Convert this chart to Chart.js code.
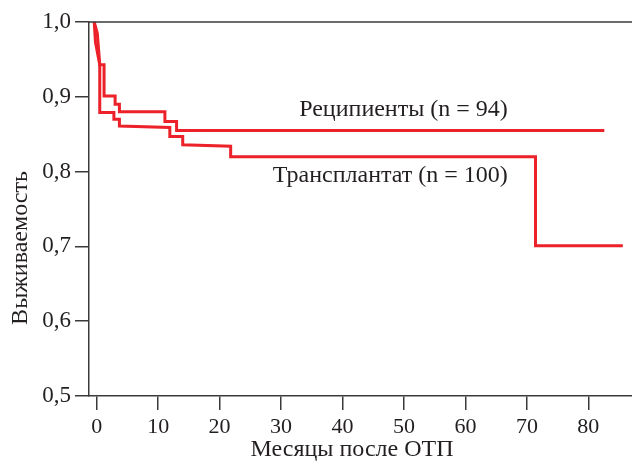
<!DOCTYPE html>
<html>
<head>
<meta charset="utf-8">
<script src="https://cdn.jsdelivr.net/npm/chart.js@4"></script>
<style>
html,body{margin:0;padding:0;background:#fff;}
#wrap{width:632px;height:462px;position:relative;}
</style>
</head>
<body>
<div id="wrap"><canvas id="c" width="632" height="462"></canvas></div>
<script>
// Kaplan–Meier curve vertices (months, survival)
const recipMonths = [-0.4, 0.1, 0.5, 1.2, 1.2, 3.0, 3.0, 3.7, 3.7, 11.1, 11.1, 13.0, 13.0, 82.6];
const recipSurv   = [1.0, 0.985, 0.943, 0.943, 0.901, 0.901, 0.890, 0.890, 0.880, 0.880, 0.867, 0.867, 0.855, 0.855];
const transMonths = [-0.4, -0.2, 0.5, 0.5, 2.8, 2.8, 3.7, 3.7, 11.9, 11.9, 14.0, 14.0, 21.8, 21.8, 71.4, 71.4, 85.6];
const transSurv   = [1.0, 0.973, 0.943, 0.879, 0.879, 0.870, 0.870, 0.861, 0.859, 0.847, 0.847, 0.836, 0.834, 0.820, 0.820, 0.701, 0.701];
const seriesNames = ['Реципиенты (n = 94)', 'Трансплантат (n = 100)'];
const xTicks = [0, 10, 20, 30, 40, 50, 60, 70, 80];
const yTicks = [0.5, 0.6, 0.7, 0.8, 0.9, 1.0];
const yTickLabels = ['0,5', '0,6', '0,7', '0,8', '0,9', '1,0'];
const xTitle = 'Месяцы после ОТП';
const yTitle = 'Выживаемость';

const toPts = (xs, ys) => xs.map((x, i) => ({x: x, y: ys[i]}));
const RED = '#ec2129';
const INK = '#231f20';
const FONT = 'Liberation Serif';

const labelPlugin = {
  id: 'labels',
  afterDatasetsDraw(chart) {
    const {ctx, scales: {x, y}, chartArea} = chart;
    ctx.save();
    // top frame line
    ctx.strokeStyle = '#3a3a3a';
    ctx.lineWidth = 1.5;
    ctx.beginPath();
    ctx.moveTo(chartArea.left, chartArea.top);
    ctx.lineTo(chartArea.right, chartArea.top);
    ctx.stroke();
    ctx.fillStyle = INK;
    ctx.font = '24px "' + FONT + '"';
    // series labels
    ctx.textAlign = 'right';
    ctx.textBaseline = 'alphabetic';
    const anchors = [[66.9, 0.875], [66.9, 0.786]];
    seriesNames.forEach((t, i) => {
      ctx.fillText(t, x.getPixelForValue(anchors[i][0]), y.getPixelForValue(anchors[i][1]));
    });
    // axis titles
    ctx.textAlign = 'center';
    ctx.textBaseline = 'middle';
    ctx.fillText(xTitle, 352, 450);
    ctx.translate(21, 248);
    ctx.rotate(-Math.PI / 2);
    ctx.fillText(yTitle, 0, 0);
    ctx.restore();
  }
};

new Chart(document.getElementById('c'), {
  type: 'line',
  data: {
    datasets: [
      {label: seriesNames[0], data: toPts(recipMonths, recipSurv), borderColor: RED, borderWidth: 3, pointRadius: 0, fill: false, tension: 0},
      {label: seriesNames[1], data: toPts(transMonths, transSurv), borderColor: RED, borderWidth: 3, pointRadius: 0, fill: false, tension: 0}
    ]
  },
  options: {
    responsive: false,
    animation: false,
    devicePixelRatio: 1,
    layout: {padding: {top: 22, right: 0, left: 0, bottom: 0}},
    plugins: {legend: {display: false}, tooltip: {enabled: false}},
    scales: {
      x: {
        type: 'linear',
        min: -1.25,
        max: 87.1,
        afterBuildTicks: (s) => { s.ticks = xTicks.map(v => ({value: v})); },
        afterFit: (s) => { s.height = 66; },
        grid: {drawOnChartArea: false, drawTicks: true, tickLength: 14, color: '#3a3a3a', lineWidth: 1.5},
        border: {display: true, color: '#3a3a3a', width: 1.5},
        ticks: {color: INK, font: {family: FONT, size: 22}, padding: 4, maxRotation: 0},
        title: {display: false}
      },
      y: {
        type: 'linear',
        min: 0.5,
        max: 1.0,
        afterBuildTicks: (s) => { s.ticks = yTicks.map(v => ({value: v})); },
        afterFit: (s) => { s.width = 89; },
        grid: {drawOnChartArea: false, drawTicks: true, tickLength: 14, color: '#3a3a3a', lineWidth: 1.5},
        border: {display: true, color: '#3a3a3a', width: 1.5},
        ticks: {color: INK, font: {family: FONT, size: 23}, padding: 4,
          callback: (v) => { const i = yTicks.findIndex(t => Math.abs(t - v) < 1e-9); return i >= 0 ? yTickLabels[i] : ''; }},
        title: {display: false}
      }
    }
  },
  plugins: [labelPlugin]
});
</script>
</body>
</html>
